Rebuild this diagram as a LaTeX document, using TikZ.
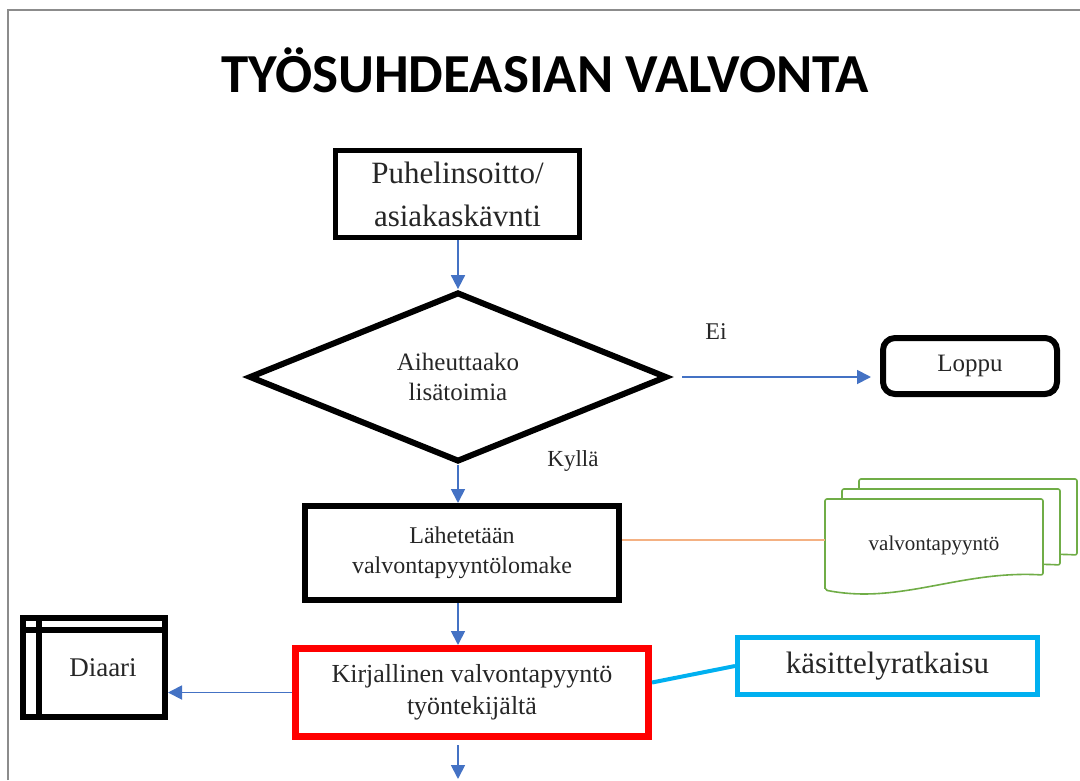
\documentclass[tikz,border=0pt]{standalone}
\usepackage{fontspec}
\setmainfont{Liberation Serif}
\newfontfamily\titlefont{Carlito}
\usepackage{tikz}
\usetikzlibrary{shapes.geometric,arrows.meta}
\definecolor{flowblue}{HTML}{4472C4}
\definecolor{docgreen}{HTML}{70AD47}
\definecolor{linkorange}{HTML}{F4B183}
\definecolor{skyline}{HTML}{00B0F0}
\definecolor{framegray}{HTML}{8C8C8C}

\begin{document}
\begin{tikzpicture}[x=1pt,y=-1pt,
  txt/.style={text=black!85,align=center,inner sep=0pt},
  box/.style={txt,draw=black,rectangle},
  flow/.style={draw=flowblue,line width=1.8pt,-{Triangle[length=14pt,width=14pt]}},
  docline/.style={draw=docgreen,line width=1.6pt,fill=white,rounded corners=2pt}]
  \useasboundingbox (0,0) rectangle (1080,780);
  \draw[framegray,line width=2pt] (8,780) -- (8,10) -- (1080,10);
  % title
  \node[anchor=base,font={\titlefont\bfseries\fontsize{55}{62}\selectfont}] (title) at (545,92) {TYÖSUHDEASIAN VALVONTA};
  % main column
  \node[box,line width=5pt,minimum width=244,minimum height=87,font={\fontsize{31}{43}\selectfont}] (call) at (457.5,194) {Puhelinsoitto/\\asiakaskävnti};
  \node[txt,draw=black,diamond,line width=6pt,minimum width=418,minimum height=164,font={\fontsize{25}{30}\selectfont}] (dec) at (458,377) {Aiheuttaako\\lisätoimia};
  \node[box,line width=6pt,rounded corners=12pt,minimum width=174,minimum height=56,font={\fontsize{25}{28}\selectfont}] (end) at (970,366) {Loppu};
  \node[box,line width=6pt,minimum width=314,minimum height=94,font={\fontsize{24}{30}\selectfont}] (send) at (462,553) {Lähetetään\\valvontapyyntölomake};
  \node[box,draw=red,line width=7pt,minimum width=353,minimum height=88,font={\fontsize{26}{32}\selectfont}] (req) at (472,692.5) {Kirjallinen valvontapyyntö\\työntekijältä};
  \node[box,draw=skyline,line width=5pt,minimum width=300,minimum height=57,font={\fontsize{31}{36}\selectfont}] (kas) at (887.5,666) {käsittelyratkaisu};
  \node[box,line width=6pt,minimum width=142,minimum height=99,font={\fontsize{27}{32}\selectfont}] (diaari) at (94,667.5) {\hspace*{18pt}Diaari};
  \draw[line width=6pt] ([yshift=-15pt]diaari.north west) -- ([yshift=-15pt]diaari.north east);
  \draw[line width=6pt] ([xshift=19pt]diaari.north west) -- ([xshift=19pt]diaari.south west);
  % stacked documents
  \foreach \k in {2,1,0}{
    \draw[docline,shift={(17*\k,-10*\k)}] (825,590) -- (825,499) -- (1043,499) -- (1043,575)
      .. controls (960,570) and (900,605) .. (825,590) -- cycle;}
  \node[txt,minimum width=218,minimum height=92,font={\fontsize{21}{25}\selectfont}] (doc) at (934,545) {valvontapyyntö};
  % labels
  \node[txt,font={\fontsize{24}{28}\selectfont}] (ei) at (716,332) {Ei};
  \node[txt,font={\fontsize{23}{28}\selectfont}] (kylla) at (573,461) {Kyllä};
  \coordinate (out) at (458,779);
  % connectors
  \draw[flow] (call.south -| dec.north) -- (dec.north);
  \draw[flow] (dec.east) -- (dec.east -| end.west) [shorten <=12pt,shorten >=9pt];
  \draw[flow] (dec.south) -- (dec.south |- send.north);
  \draw[draw=linkorange,line width=1.6pt] ([yshift=13pt]send.east) -- ([yshift=13pt]send.east -| doc.west);
  \draw[flow] (send.south -| dec.south) -- (req.north -| dec.south);
  \draw[flow] (req.west) -- (req.west -| diaari.east);
  \draw[draw=skyline,line width=4pt] ([yshift=10pt]req.east) -- (kas.west);
  \draw[flow,shorten <=5pt] (req.south -| dec.south) -- (out);
\end{tikzpicture}
\end{document}
